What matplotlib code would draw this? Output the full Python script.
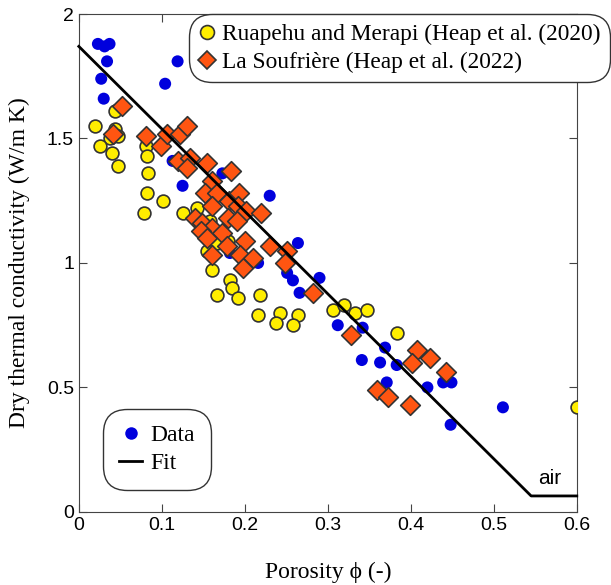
import numpy as np
import matplotlib.pyplot as plt
from matplotlib.lines import Line2D

# blue "Data" points (porosity, conductivity)
data_phi = [0.023, 0.031, 0.037, 0.034, 0.027, 0.030, 0.119, 0.104, 0.113, 0.125,
            0.173, 0.230, 0.182, 0.216, 0.264, 0.251, 0.258, 0.266, 0.290, 0.312,
            0.342, 0.369, 0.341, 0.363, 0.383, 0.371, 0.420, 0.439, 0.449, 0.448, 0.511]
data_k = [1.88, 1.87, 1.88, 1.81, 1.74, 1.66, 1.81, 1.72, 1.41, 1.31,
          1.36, 1.27, 1.04, 1.00, 1.08, 0.96, 0.93, 0.88, 0.94, 0.75,
          0.74, 0.66, 0.61, 0.60, 0.59, 0.52, 0.50, 0.52, 0.52, 0.35, 0.42]

# Ruapehu and Merapi (Heap et al. 2020)
rm_phi = [0.019, 0.043, 0.043, 0.037, 0.047, 0.025, 0.040, 0.047, 0.081, 0.082,
          0.083, 0.082, 0.102, 0.078, 0.125, 0.142, 0.158, 0.167, 0.180, 0.154,
          0.160, 0.182, 0.184, 0.192, 0.166, 0.218, 0.216, 0.242, 0.237, 0.264,
          0.258, 0.306, 0.319, 0.333, 0.347, 0.383, 0.600]
rm_k = [1.55, 1.61, 1.54, 1.50, 1.51, 1.47, 1.44, 1.39, 1.47, 1.43,
        1.36, 1.28, 1.25, 1.20, 1.20, 1.22, 1.17, 1.08, 1.09, 1.05,
        0.97, 0.93, 0.90, 0.86, 0.87, 0.87, 0.79, 0.80, 0.76, 0.79,
        0.75, 0.81, 0.83, 0.80, 0.81, 0.72, 0.42]

# La Soufriere (Heap et al. 2022)
ls_phi = [0.052, 0.041, 0.081, 0.099, 0.106, 0.122, 0.130, 0.119, 0.134, 0.130,
          0.155, 0.183, 0.161, 0.152, 0.166, 0.181, 0.193, 0.161, 0.192, 0.202,
          0.220, 0.180, 0.190, 0.140, 0.149, 0.160, 0.172, 0.147, 0.154, 0.178,
          0.200, 0.230, 0.161, 0.194, 0.210, 0.198, 0.251, 0.249, 0.282, 0.328,
          0.407, 0.423, 0.401, 0.442, 0.359, 0.372, 0.399]
ls_k = [1.63, 1.52, 1.51, 1.47, 1.52, 1.52, 1.55, 1.41, 1.42, 1.38,
        1.40, 1.37, 1.33, 1.28, 1.28, 1.25, 1.28, 1.23, 1.23, 1.21,
        1.20, 1.18, 1.17, 1.18, 1.16, 1.14, 1.12, 1.13, 1.10, 1.07,
        1.09, 1.07, 1.03, 1.03, 1.02, 0.98, 1.05, 1.00, 0.88, 0.71,
        0.65, 0.62, 0.60, 0.56, 0.49, 0.46, 0.43]

# fit line (linear down to the air value, then flat)
fit_phi = [0.0, 0.545, 0.6]
fit_k = [1.87, 0.064, 0.064]

serif = 'Liberation Serif'
sans = 'Liberation Sans'

fig = plt.figure(figsize=(6.11, 5.85), dpi=100)
ax = fig.add_axes([0.129, 0.125, 0.815, 0.851])

ax.scatter(data_phi, data_k, s=75, color='#0000dd', edgecolors='none', zorder=2)
ax.scatter(rm_phi, rm_k, s=85, color='#ffee00', edgecolors='#333333', linewidths=1.2, zorder=3)
ax.scatter(ls_phi, ls_k, s=100, marker='D', color='#ff5511', edgecolors='#333333', linewidths=1.2, zorder=4)
ax.plot(fit_phi, fit_k, color='black', lw=2, zorder=5, clip_on=False)

ax.text(0.553, 0.11, 'air', fontsize=15, family=sans)

ax.set_xlim(0, 0.6)
ax.set_ylim(0, 2)
ax.set_xticks([0, 0.1, 0.2, 0.3, 0.4, 0.5, 0.6])
ax.set_xticklabels(['0', '0.1', '0.2', '0.3', '0.4', '0.5', '0.6'])
ax.set_yticks([0, 0.5, 1, 1.5, 2])
ax.set_yticklabels(['0', '0.5', '1', '1.5', '2'])
ax.tick_params(direction='in', length=6, top=True, right=True, labelsize=14,
               color='#444444')
for lab in ax.get_xticklabels() + ax.get_yticklabels():
    lab.set_family(sans)
for sp in ax.spines.values():
    sp.set_color('#444444')

ax.set_xlabel('Porosity ϕ (-)', fontsize=17, family=[serif, 'DejaVu Serif'], labelpad=20)
ax.set_ylabel('Dry thermal conductivity (W/m K)', fontsize=17, family=serif, labelpad=12)

h1 = [Line2D([], [], ls='none', marker='o', ms=10, mfc='#ffee00', mec='#333333', mew=1.2),
      Line2D([], [], ls='none', marker='D', ms=9, mfc='#ff5511', mec='#333333', mew=1.2)]
leg1 = fig.legend(h1, ['Ruapehu and Merapi (Heap et al. (2020)', 'La Soufrière (Heap et al. (2022)'],
                  loc='upper right', bbox_to_anchor=(0.993, 0.97), prop={'family': serif, 'size': 16.8},
                  handletextpad=0.25, handlelength=0.8, borderpad=0.25, labelspacing=0.3,
                  borderaxespad=0, fancybox=True, framealpha=1, edgecolor='#333333')
leg1.get_frame().set_boxstyle('round', pad=0.15, rounding_size=1.0)

h2 = [Line2D([], [], ls='none', marker='o', ms=9, mfc='#0000dd', mec='none'),
      Line2D([], [], color='black', lw=2)]
leg2 = ax.legend(h2, ['Data', 'Fit'], loc='lower left', bbox_to_anchor=(0.04, 0.035),
                 prop={'family': serif, 'size': 17}, handlelength=1.0, handletextpad=0.35,
                 borderpad=0.35, labelspacing=0.3, fancybox=True, framealpha=1,
                 edgecolor='#333333')
leg2.get_frame().set_boxstyle('round', pad=0.3, rounding_size=1.0)

fig.savefig('out.png', dpi=100)
